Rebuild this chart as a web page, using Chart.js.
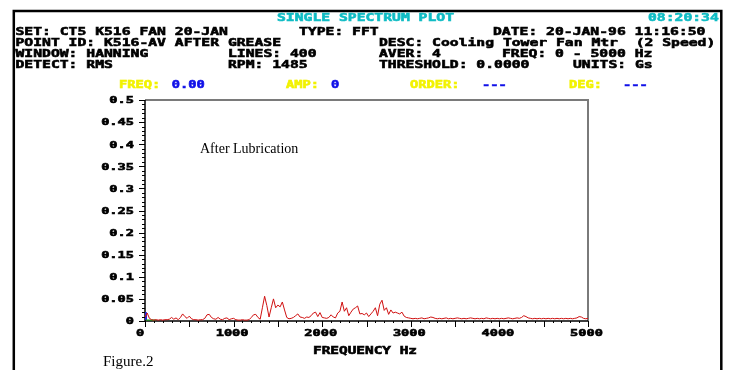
<!DOCTYPE html>
<html>
<head>
<meta charset="utf-8">
<script src="https://cdn.jsdelivr.net/npm/chart.js@4.4.1/dist/chart.umd.min.js"></script>
<style>
  html, body { margin: 0; padding: 0; background: #fff; }
  canvas { display: block; }
</style>
</head>
<body>
<canvas id="spectrum" width="731" height="370"></canvas>
<script>
// spectrum amplitude (Gs), one value every 25 Hz
const FREQ_STEP = 25;
const amp0to1k = [
  0.008, 0.018, 0.006, 0.003, 0.002, 0.003, 0.002, 0.003, 0.002, 0.003,
  0.003, 0.004, 0.008, 0.004, 0.007, 0.003, 0.008, 0.016, 0.010, 0.006,
  0.011, 0.005, 0.003, 0.003, 0.002, 0.003, 0.003, 0.006, 0.014, 0.015,
  0.008, 0.005, 0.004, 0.008, 0.004, 0.003, 0.006, 0.007, 0.003, 0.005,
  0.006
];
const amp1kto2k = [
  0.003, 0.002, 0.002, 0.003, 0.002, 0.002, 0.003, 0.008, 0.014, 0.015,
  0.008, 0.004, 0.030, 0.056, 0.035, 0.009, 0.030, 0.050, 0.030, 0.036,
  0.032, 0.043, 0.025, 0.008, 0.005, 0.006, 0.008, 0.012, 0.016, 0.009,
  0.008, 0.006, 0.009, 0.008, 0.012, 0.018, 0.020, 0.010, 0.019, 0.008
];
const amp2kto3k = [
  0.007, 0.006, 0.008, 0.014, 0.009, 0.007, 0.018, 0.022, 0.043, 0.022,
  0.030, 0.012, 0.020, 0.027, 0.030, 0.034, 0.016, 0.017, 0.014, 0.018,
  0.010, 0.016, 0.022, 0.030, 0.012, 0.038, 0.047, 0.024, 0.030, 0.015,
  0.025, 0.018, 0.020, 0.018, 0.016, 0.020, 0.011, 0.008, 0.007, 0.006
];
const amp3kto4k = [
  0.005, 0.006, 0.005, 0.006, 0.007, 0.005, 0.006, 0.007, 0.009, 0.008,
  0.006, 0.005, 0.006, 0.005, 0.006, 0.007, 0.005, 0.006, 0.005, 0.006,
  0.007, 0.006, 0.005, 0.006, 0.005, 0.006, 0.007, 0.006, 0.005, 0.006,
  0.005, 0.006, 0.005, 0.007, 0.006, 0.005, 0.006, 0.005, 0.006, 0.005
];
const amp4kto5k = [
  0.006, 0.005, 0.006, 0.007, 0.006, 0.005, 0.006, 0.007, 0.006, 0.008,
  0.012, 0.010, 0.007, 0.006, 0.005, 0.006, 0.005, 0.006, 0.005, 0.006,
  0.005, 0.006, 0.005, 0.006, 0.005, 0.006, 0.005, 0.006, 0.005, 0.006,
  0.005, 0.006, 0.005, 0.006, 0.007, 0.010, 0.009, 0.006, 0.005, 0.006
];
const yTicks = [0, 0.05, 0.1, 0.15, 0.2, 0.25, 0.3, 0.35, 0.4, 0.45, 0.5];
const yTickLabels = ["0", "0.05", "0.1", "0.15", "0.2", "0.25", "0.3", "0.35", "0.4", "0.45", "0.5"];
const xTicks = [0, 1000, 2000, 3000, 4000, 5000];
const xTickLabels = ["0", "1000", "2000", "3000", "4000", "5000"];

const amps = [...amp0to1k, ...amp1kto2k, ...amp2kto3k, ...amp3kto4k, ...amp4kto5k];
const points = amps.map((a, i) => ({ x: i * FREQ_STEP, y: a }));

// stretched bold mono text, to look like the old pixel font
function mono(ctx, str, x, y, color, opts = {}) {
  const size = opts.size || 10;
  const sx = opts.sx || 1.47;
  ctx.save();
  ctx.font = `bold ${size}px "DejaVu Sans Mono"`;
  ctx.fillStyle = color;
  ctx.strokeStyle = color;
  ctx.lineWidth = 0.55;
  ctx.textBaseline = "alphabetic";
  ctx.textAlign = "left";
  const w = ctx.measureText(str).width * sx;
  let left = x;
  if (opts.align === "right") left = x - w;
  if (opts.align === "center") left = x - w / 2;
  ctx.translate(left, y);
  ctx.scale(sx, 1);
  ctx.fillText(str, 0, 0);
  ctx.strokeText(str, 0, 0);
  ctx.restore();
}

const CYAN = "#10bcc4";
const YELLOW = "#f2f200";
const BLUE = "#1010e8";

const frame = {
  id: "frame",
  beforeDraw(chart) {
    const ctx = chart.ctx;
    ctx.save();
    ctx.fillStyle = "#fff";
    ctx.fillRect(0, 0, chart.width, chart.height);

    // outer border (left, top, right)
    ctx.strokeStyle = "#000";
    ctx.lineWidth = 2.5;
    ctx.beginPath();
    ctx.moveTo(13.8, 372);
    ctx.lineTo(13.8, 11);
    ctx.lineTo(721.3, 11);
    ctx.lineTo(721.3, 372);
    ctx.stroke();
    ctx.restore();

    mono(ctx, "SINGLE SPECTRUM PLOT", 365.5, 20.7, CYAN, { align: "center" });
    mono(ctx, "08:20:34", 648, 20.7, CYAN);

    const K = "#000";
    mono(ctx, "SET: CT5 K516 FAN 20-JAN", 15.5, 35.3, K);
    mono(ctx, "TYPE: FFT", 299, 35.3, K);
    mono(ctx, "DATE: 20-JAN-96 11:16:50", 493, 35.3, K);
    mono(ctx, "POINT ID: K516-AV AFTER GREASE", 15.5, 46.3, K);
    mono(ctx, "DESC: Cooling Tower Fan Mtr  (2 Speed)", 379, 46.3, K);
    mono(ctx, "WINDOW: HANNING", 15.5, 57.3, K);
    mono(ctx, "LINES: 400", 228, 57.3, K);
    mono(ctx, "AVER: 4", 379, 57.3, K);
    mono(ctx, "FREQ: 0 - 5000 Hz", 502, 57.3, K);
    mono(ctx, "DETECT: RMS", 15.5, 68.3, K);
    mono(ctx, "RPM: 1485", 228, 68.3, K);
    mono(ctx, "THRESHOLD: 0.0000", 379, 68.3, K);
    mono(ctx, "UNITS: Gs", 573, 68.3, K);

    const cur = { sx: 1.37 };
    mono(ctx, "FREQ:", 119, 88.3, YELLOW, cur);
    mono(ctx, "0.00", 171.7, 88.3, BLUE, cur);
    mono(ctx, "AMP:", 286, 88.3, YELLOW, cur);
    mono(ctx, "0", 331, 88.3, BLUE, cur);
    mono(ctx, "ORDER:", 410, 88.3, YELLOW, cur);
    mono(ctx, "---", 482, 88.3, BLUE, cur);
    mono(ctx, "DEG:", 569, 88.3, YELLOW, cur);
    mono(ctx, "---", 623, 88.3, BLUE, cur);
  },
  beforeDatasetsDraw(chart) {
    const ctx = chart.ctx;
    const xs = chart.scales.x;
    const ys = chart.scales.y;
    const L = xs.getPixelForValue(0), R = xs.getPixelForValue(5000);
    const T = ys.getPixelForValue(0.5), B = ys.getPixelForValue(0);
    ctx.save();

    // gray top and right border
    ctx.strokeStyle = "#7a7a7a";
    ctx.lineWidth = 2;
    ctx.beginPath();
    ctx.moveTo(L, T);
    ctx.lineTo(R, T);
    ctx.lineTo(R, B);
    ctx.stroke();

    // black axes
    ctx.strokeStyle = "#000";
    ctx.lineWidth = 1.5;
    ctx.beginPath();
    ctx.moveTo(L, T);
    ctx.lineTo(L, B);
    ctx.lineTo(R, B);
    ctx.stroke();

    // y ticks: minor every 0.01, major every 0.05
    ctx.lineWidth = 1;
    ctx.beginPath();
    for (let k = 0; k <= 50; k++) {
      const py = Math.round(ys.getPixelForValue(k / 100)) + 0.5;
      const len = k % 5 === 0 ? 6 : 3;
      ctx.moveTo(L - len, py);
      ctx.lineTo(L, py);
    }
    // x ticks: minor every 100 Hz, major every 500 Hz
    for (let k = 0; k <= 50; k++) {
      const px = Math.round(xs.getPixelForValue(k * 100)) + 0.5;
      const len = k % 5 === 0 ? 6 : 2;
      ctx.moveTo(px, B);
      ctx.lineTo(px, B + len);
    }
    ctx.stroke();

    // cursor marker at 0 Hz
    ctx.fillStyle = "#2020e0";
    ctx.fillRect(L, ys.getPixelForValue(0.02), 2, ys.getPixelForValue(0) - ys.getPixelForValue(0.02) - 1);
    ctx.strokeStyle = "#10b010";
    ctx.beginPath();
    ctx.moveTo(L + 1, B - 1);
    ctx.lineTo(xs.getPixelForValue(120), B - 1);
    ctx.stroke();
    ctx.restore();

    const ax = { size: 8.7, sx: 1.57 };
    yTicks.forEach((v, i) => {
      mono(ctx, yTickLabels[i], 134, ys.getPixelForValue(v) + 3.3, "#000", { ...ax, align: "right" });
    });
    xTicks.forEach((v, i) => {
      const off = v === 0 ? -5 : -1.5;
      mono(ctx, xTickLabels[i], xs.getPixelForValue(v) + off, 336.3, "#000", { ...ax, align: "center" });
    });
    mono(ctx, "FREQUENCY Hz", 365, 354, "#000", { size: 10, sx: 1.44, align: "center" });

    ctx.save();
    ctx.fillStyle = "#000";
    ctx.font = '14px "Liberation Serif"';
    ctx.fillText("After Lubrication", 200, 153);
    ctx.font = '15px "Liberation Serif"';
    ctx.fillText("Figure.2", 103, 365.5);
    ctx.restore();
  }
};

new Chart(document.getElementById("spectrum").getContext("2d"), {
  type: "line",
  data: {
    datasets: [
      {
        data: points,
        borderColor: "#d01010",
        borderWidth: 1,
        pointRadius: 0,
        tension: 0,
        fill: false,
      },
    ],
  },
  options: {
    responsive: false,
    animation: false,
    devicePixelRatio: 1,
    layout: { padding: { left: 145, right: 143, top: 100, bottom: 49 } },
    scales: {
      x: { type: "linear", min: 0, max: 5000, display: false },
      y: { min: 0, max: 0.5, display: false },
    },
    plugins: {
      legend: { display: false },
      tooltip: { enabled: false },
    },
  },
  plugins: [frame],
});
</script>
</body>
</html>
